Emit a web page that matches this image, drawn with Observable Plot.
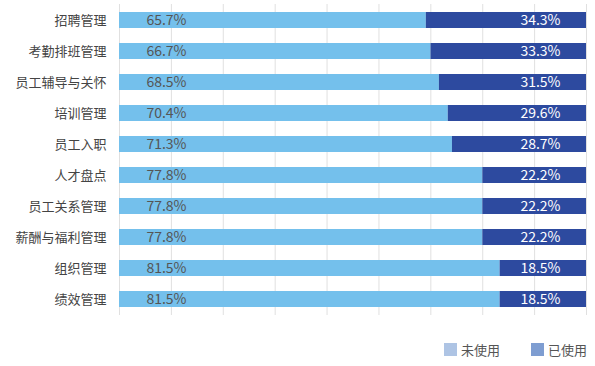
<!DOCTYPE html>
<html>
<head>
<meta charset="utf-8">
<script src="https://cdn.jsdelivr.net/npm/d3@7"></script>
<script src="https://cdn.jsdelivr.net/npm/@observablehq/plot@0.6"></script>
<style>
  html, body { margin: 0; padding: 0; background: #fff; }
  body { width: 595px; height: 366px; overflow: hidden; font-family: "Noto Sans CJK SC", "Noto Sans", sans-serif; }
  #legend { display: flex; justify-content: flex-end; align-items: center; padding-right: 8px; margin-top: 10px; font-size: 13px; color: #555; }
  .item { display: flex; align-items: center; margin-left: 31px; }
  .sw { width: 13px; height: 13px; margin-right: 4px; }
</style>
</head>
<body>
<div id="chart"></div>
<div id="legend"></div>
<script>
const categories = ["招聘管理", "考勤排班管理", "员工辅导与关怀", "培训管理", "员工入职", "人才盘点", "员工关系管理", "薪酬与福利管理", "组织管理", "绩效管理"];
const unusedValues = [65.7, 66.7, 68.5, 70.4, 71.3, 77.8, 77.8, 77.8, 81.5, 81.5];
const usedValues = [34.3, 33.3, 31.5, 29.6, 28.7, 22.2, 22.2, 22.2, 18.5, 18.5];
const seriesNames = ["未使用", "已使用"];
const barColors = ["#74c0ec", "#2d4a9f"];
const legendColors = ["#aec4e4", "#7e9dd1"];
const gridCount = 10;
const gridValues = d3.range(gridCount).map(i => i * 100 / (gridCount - 1));

const rows = [];
categories.forEach((c, i) => {
  rows.push({cat: c, series: seriesNames[0], value: unusedValues[i]});
  rows.push({cat: c, series: seriesNames[1], value: usedValues[i]});
});
const unusedRows = rows.filter(d => d.series === seriesNames[0]);
const usedRows = rows.filter(d => d.series === seriesNames[1]);

const chart = Plot.plot({
  width: 595,
  height: 330,
  marginLeft: 119,
  marginRight: 9,
  marginTop: 4,
  marginBottom: 15,
  style: {fontFamily: '"Noto Sans CJK SC", "Noto Sans", sans-serif', background: "#fff"},
  x: {domain: [0, 100], axis: null},
  y: {domain: categories, paddingInner: 0.5, paddingOuter: 0.15, label: null},
  color: {domain: seriesNames, range: barColors},
  marks: [
    Plot.ruleX(gridValues, {stroke: "#e0e0e0", strokeWidth: 1}),
    Plot.barX(rows, {x: "value", y: "cat", fill: "series", order: seriesNames}),
    Plot.axisY({tickSize: 0, tickPadding: 13, fontSize: 13, fill: "#444", label: null}),
    Plot.text(unusedRows, {x: () => 0, y: "cat", text: d => d.value.toFixed(1) + "%", dx: 67, textAnchor: "end", fill: "#555", fontSize: 14}),
    Plot.text(usedRows, {x: () => 100, y: "cat", text: d => d.value.toFixed(1) + "%", dx: -26, textAnchor: "end", fill: "#fff", fontSize: 14})
  ]
});
document.getElementById("chart").appendChild(chart);

const legend = document.getElementById("legend");
seriesNames.forEach((s, i) => {
  const item = document.createElement("div");
  item.className = "item";
  const sw = document.createElement("span");
  sw.className = "sw";
  sw.style.background = legendColors[i];
  const t = document.createElement("span");
  t.textContent = s;
  item.appendChild(sw);
  item.appendChild(t);
  legend.appendChild(item);
});
</script>
</body>
</html>
